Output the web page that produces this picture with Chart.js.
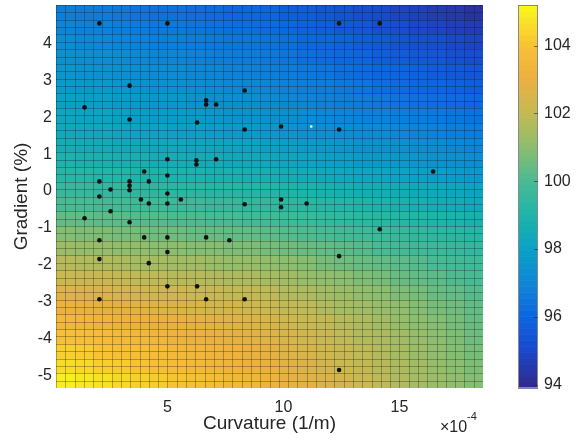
<!DOCTYPE html>
<html>
<head>
<meta charset="utf-8">
<script src="https://cdn.jsdelivr.net/npm/chart.js@4.4.1/dist/chart.umd.min.js"></script>
<style>
  body { margin: 0; background: #fff; }
  #wrap { position: relative; width: 576px; height: 444px; }
  #main { position: absolute; left: 0; top: 0; }
  #bar { position: absolute; left: 500px; top: 0; }
</style>
</head>
<body>
<div id="wrap">
  <canvas id="main" width="500" height="444"></canvas>
  <canvas id="bar" width="76" height="444"></canvas>
</div>
<script>
// tick labels
const xTicks = [5, 10, 15];
const yTicks = [-5, -4, -3, -2, -1, 0, 1, 2, 3, 4];
const cbTicks = [94, 96, 98, 100, 102, 104];
const colorLimits = [93.9, 105.2];

// measured points (curvature x1e-4, gradient %)
const curvX = [2.07, 5.0, 12.4, 14.15, 3.37, 1.43, 3.37, 8.33, 6.67, 6.67, 7.1, 6.28, 8.33, 9.9, 12.4,
  5.0, 6.25, 6.25, 7.1, 4.0, 2.07, 2.55, 3.37, 3.37, 3.37, 4.2, 5.0,
  5.0, 2.07, 3.86, 4.2, 5.0, 5.58, 2.55, 1.43, 3.37, 8.33, 9.9, 9.9, 11.0, 16.45, 14.15,
  4.0, 5.0, 6.67, 2.07, 7.67, 5.0, 2.07, 4.2, 12.4, 6.28, 5.0, 2.07, 6.67, 8.33, 12.4];
const gradY = [4.55, 4.55, 4.55, 4.55, 2.86, 2.27, 1.94, 2.73, 2.46, 2.35, 2.35, 1.86, 1.67, 1.75, 1.67,
  0.86, 0.83, 0.72, 0.86, 0.53, 0.26, 0.04, 0.26, 0.14, 0.02, 0.26, 0.42,
  -0.07, -0.15, -0.23, -0.34, -0.34, -0.23, -0.55, -0.74, -0.85, -0.36, -0.23, -0.44, -0.34, 0.53, -1.04,
  -1.26, -1.26, -1.26, -1.34, -1.34, -1.66, -1.85, -1.96, -1.77, -2.59, -2.59, -2.94, -2.94, -2.94, -4.86];
const whiteX = [11.2];
const whiteY = [1.75];

// fitted surface, one value per 2x2 mesh block (rows top to bottom)
const xEdges = [0.2, 1.0, 1.8, 2.6, 3.4, 4.2, 5.0, 5.8, 6.6, 7.4, 8.2, 9.0, 9.8, 10.6, 11.4, 12.2, 13.0, 13.8, 14.6, 15.4, 16.2, 17.0, 17.8, 18.6];
const yEdges = [5.05, 4.65, 4.25, 3.85, 3.45, 3.05, 2.65, 2.25, 1.85, 1.45, 1.05, 0.65, 0.25, -0.15, -0.55, -0.95, -1.35, -1.75, -2.15, -2.55, -2.95, -3.35, -3.75, -4.15, -4.55, -4.95, -5.35];
const surfaceZ = [
  [96.8,96.7,96.7,96.6,96.5,96.4,96.4,96.3,96.2,96.1,96.1,96.0,95.8,95.7,95.5,95.4,95.2,95.1,94.9,94.8,94.6,94.5,94.3],
  [97.0,96.9,96.9,96.8,96.7,96.6,96.6,96.5,96.4,96.3,96.3,96.2,96.1,95.9,95.8,95.6,95.5,95.3,95.2,95.0,94.9,94.7,94.6],
  [97.2,97.1,97.1,97.0,96.9,96.8,96.8,96.7,96.6,96.5,96.5,96.4,96.3,96.1,96.0,95.9,95.7,95.6,95.4,95.3,95.2,95.0,94.9],
  [97.4,97.3,97.3,97.2,97.1,97.0,97.0,96.9,96.8,96.7,96.7,96.6,96.5,96.3,96.2,96.1,96.0,95.8,95.7,95.6,95.5,95.3,95.2],
  [97.6,97.5,97.5,97.4,97.3,97.2,97.2,97.1,97.0,96.9,96.9,96.8,96.7,96.6,96.5,96.3,96.2,96.1,96.0,95.9,95.7,95.6,95.5],
  [97.8,97.7,97.7,97.6,97.5,97.4,97.4,97.3,97.2,97.1,97.1,97.0,96.9,96.8,96.7,96.6,96.5,96.3,96.2,96.1,96.0,95.9,95.8],
  [98.0,97.9,97.9,97.8,97.7,97.6,97.6,97.5,97.4,97.3,97.3,97.2,97.1,97.0,96.9,96.8,96.7,96.6,96.5,96.4,96.3,96.2,96.1],
  [98.2,98.1,98.1,98.0,97.9,97.8,97.8,97.7,97.6,97.5,97.5,97.4,97.3,97.2,97.1,97.0,96.9,96.9,96.8,96.7,96.6,96.5,96.4],
  [98.4,98.3,98.3,98.2,98.1,98.1,98.0,98.0,97.9,97.8,97.8,97.7,97.6,97.5,97.4,97.3,97.2,97.2,97.1,97.0,96.9,96.8,96.7],
  [98.6,98.5,98.5,98.4,98.4,98.3,98.3,98.2,98.2,98.1,98.1,98.0,97.9,97.8,97.7,97.6,97.5,97.5,97.4,97.3,97.2,97.1,97.0],
  [98.9,98.8,98.8,98.7,98.7,98.6,98.6,98.5,98.5,98.4,98.4,98.3,98.2,98.1,98.0,97.9,97.8,97.8,97.7,97.6,97.5,97.4,97.3],
  [99.2,99.2,99.1,99.1,99.0,99.0,98.9,98.9,98.8,98.8,98.7,98.7,98.6,98.5,98.4,98.3,98.2,98.2,98.1,98.0,97.9,97.8,97.7],
  [99.6,99.6,99.5,99.5,99.4,99.4,99.3,99.3,99.2,99.2,99.1,99.1,99.0,98.9,98.8,98.7,98.6,98.6,98.5,98.4,98.3,98.2,98.1],
  [100.0,100.0,99.9,99.9,99.8,99.8,99.7,99.7,99.6,99.6,99.5,99.5,99.4,99.3,99.2,99.1,99.0,98.9,98.8,98.7,98.6,98.5,98.4],
  [100.4,100.4,100.3,100.3,100.2,100.2,100.1,100.1,100.0,100.0,99.9,99.9,99.8,99.7,99.6,99.5,99.4,99.3,99.2,99.1,99.0,98.9,98.8],
  [100.9,100.8,100.8,100.7,100.7,100.6,100.6,100.5,100.5,100.4,100.4,100.3,100.2,100.1,100.0,99.9,99.8,99.7,99.6,99.5,99.4,99.3,99.2],
  [101.3,101.2,101.2,101.1,101.1,101.0,101.0,100.9,100.9,100.8,100.8,100.7,100.6,100.5,100.4,100.3,100.2,100.0,99.9,99.8,99.7,99.6,99.5],
  [101.8,101.7,101.7,101.6,101.5,101.5,101.4,101.4,101.3,101.2,101.2,101.1,101.0,100.9,100.7,100.6,100.5,100.4,100.3,100.2,100.0,99.9,99.8],
  [102.2,102.1,102.1,102.0,101.9,101.9,101.8,101.8,101.7,101.6,101.6,101.5,101.4,101.2,101.1,101.0,100.8,100.7,100.5,100.4,100.3,100.1,100.0],
  [102.7,102.6,102.6,102.5,102.4,102.3,102.3,102.2,102.1,102.0,102.0,101.9,101.7,101.6,101.4,101.3,101.1,101.0,100.8,100.7,100.5,100.4,100.2],
  [103.1,103.0,102.9,102.9,102.8,102.7,102.6,102.5,102.4,102.4,102.3,102.2,102.0,101.9,101.7,101.5,101.4,101.2,101.1,100.9,100.7,100.6,100.4],
  [103.5,103.4,103.3,103.2,103.1,103.0,103.0,102.9,102.8,102.7,102.6,102.5,102.3,102.1,102.0,101.8,101.6,101.4,101.2,101.0,100.9,100.7,100.5],
  [103.9,103.8,103.7,103.6,103.5,103.4,103.2,103.1,103.0,102.9,102.8,102.7,102.5,102.3,102.1,101.9,101.7,101.6,101.4,101.2,101.0,100.8,100.6],
  [104.3,104.2,104.0,103.9,103.8,103.7,103.5,103.4,103.3,103.2,103.0,102.9,102.7,102.5,102.3,102.1,101.9,101.7,101.5,101.3,101.1,100.9,100.7],
  [104.6,104.5,104.3,104.2,104.0,103.9,103.7,103.6,103.4,103.3,103.1,103.0,102.8,102.6,102.4,102.2,102.0,101.8,101.6,101.4,101.2,101.0,100.8],
  [105.0,104.8,104.7,104.5,104.3,104.2,104.0,103.9,103.7,103.5,103.4,103.2,103.0,102.8,102.6,102.4,102.2,101.9,101.7,101.5,101.3,101.1,100.9]
];

const fontFam = '"Liberation Sans", Arial, Helvetica, sans-serif';
const txtColor = '#262626';

// parula-like colormap, tuned to the colours seen in the picture
const cmapPos = [0, 0.1, 0.19, 0.27, 0.36, 0.45, 0.54, 0.63, 0.72, 0.81, 0.89, 0.95, 1];
const cmapRGB = [
  [50, 40, 135], [25, 72, 205], [12, 102, 225], [15, 132, 215], [10, 160, 200], [30, 180, 170],
  [72, 186, 148], [140, 190, 110], [196, 185, 84], [236, 176, 64], [248, 192, 54], [248, 222, 40], [250, 248, 25]
];

function parula(v) {
  let t = (v - colorLimits[0]) / (colorLimits[1] - colorLimits[0]);
  t = Math.max(0, Math.min(1, t));
  let i = 0;
  while (i < cmapPos.length - 2 && t > cmapPos[i + 1]) i++;
  const k = (t - cmapPos[i]) / (cmapPos[i + 1] - cmapPos[i]);
  const a = cmapRGB[i], b = cmapRGB[i + 1];
  const c = a.map((ch, j) => Math.round(ch + (b[j] - ch) * k));
  return `rgb(${c[0]},${c[1]},${c[2]})`;
}

function noPadY(s) { s.paddingTop = 0; s.paddingBottom = 0; }
function noPadX(s) { s.paddingLeft = 0; s.paddingRight = 0; }

const surfacePlugin = {
  id: 'surface',
  beforeDatasetsDraw(chart) {
    const { ctx, chartArea, scales: { x, y } } = chart;
    ctx.save();
    ctx.beginPath();
    ctx.rect(chartArea.left, chartArea.top, chartArea.width, chartArea.height);
    ctx.clip();
    for (let r = 0; r < surfaceZ.length; r++) {
      const y0 = y.getPixelForValue(yEdges[r]);
      const y1 = y.getPixelForValue(yEdges[r + 1]);
      for (let c = 0; c < surfaceZ[r].length; c++) {
        const x0 = x.getPixelForValue(xEdges[c]);
        const x1 = x.getPixelForValue(xEdges[c + 1]);
        ctx.fillStyle = parula(surfaceZ[r][c]);
        ctx.fillRect(x0, y0, x1 - x0 + 0.6, y1 - y0 + 0.6);
      }
    }
    // mesh edges (block edges and block midlines)
    ctx.strokeStyle = 'rgba(20,20,20,0.3)';
    ctx.lineWidth = 1;
    ctx.beginPath();
    for (let c = 0; c < xEdges.length; c++) {
      const vals = [xEdges[c]];
      if (c < xEdges.length - 1) vals.push((xEdges[c] + xEdges[c + 1]) / 2);
      vals.forEach(v => {
        const px = Math.round(x.getPixelForValue(v)) + 0.5;
        ctx.moveTo(px, chartArea.top);
        ctx.lineTo(px, chartArea.bottom);
      });
    }
    for (let r = 0; r < yEdges.length; r++) {
      const vals = [yEdges[r]];
      if (r < yEdges.length - 1) vals.push((yEdges[r] + yEdges[r + 1]) / 2);
      vals.forEach(v => {
        const py = Math.round(y.getPixelForValue(v)) + 0.5;
        ctx.moveTo(chartArea.left, py);
        ctx.lineTo(chartArea.right, py);
      });
    }
    ctx.stroke();
    ctx.restore();
  },
  afterDraw(chart) {
    const { ctx } = chart;
    ctx.save();
    ctx.fillStyle = txtColor;
    ctx.textBaseline = 'alphabetic';
    ctx.font = '16px ' + fontFam;
    ctx.fillText('\u00d710', 440, 432);
    ctx.font = '11px ' + fontFam;
    ctx.fillText('-4', 467, 420);
    ctx.restore();
  }
};

const points = curvX.map((v, i) => ({ x: v, y: gradY[i] }));
const whitePts = whiteX.map((v, i) => ({ x: v, y: whiteY[i] }));

new Chart(document.getElementById('main'), {
  type: 'scatter',
  data: {
    datasets: [
      { data: points, backgroundColor: '#111', borderWidth: 0, pointRadius: 2.3 },
      { data: whitePts, backgroundColor: '#fff', borderWidth: 0, pointRadius: 1.3 }
    ]
  },
  options: {
    responsive: false,
    animation: false,
    events: [],
    layout: { padding: { left: 0, right: 17, top: 5, bottom: 0 } },
    plugins: { legend: { display: false }, tooltip: { enabled: false } },
    scales: {
      x: {
        type: 'linear', min: 0.2, max: 18.6,
        grid: { display: false, drawTicks: false },
        border: { display: false },
        afterBuildTicks: s => { s.ticks = xTicks.map(v => ({ value: v })); },
        afterFit: s => { s.height = 56; noPadX(s); },
        ticks: { autoSkip: false, maxRotation: 0, padding: 10, color: txtColor, font: { family: fontFam, size: 16 } },
        title: { display: true, text: 'Curvature (1/m)', color: txtColor, font: { family: fontFam, size: 19 }, padding: { top: 0, bottom: 9 } }
      },
      y: {
        type: 'linear', min: -5.35, max: 5.05,
        grid: { display: false, drawTicks: false },
        border: { display: false },
        afterBuildTicks: s => { s.ticks = yTicks.map(v => ({ value: v })); },
        afterFit: s => { s.width = 56; noPadY(s); },
        ticks: { autoSkip: false, padding: 4, color: txtColor, font: { family: fontFam, size: 16 } },
        title: { display: true, text: 'Gradient (%)', color: txtColor, font: { family: fontFam, size: 19 }, padding: { top: 10, bottom: 0 } }
      }
    }
  },
  plugins: [surfacePlugin]
});

const colorbarPlugin = {
  id: 'colorbar',
  beforeDatasetsDraw(chart) {
    const { ctx, chartArea, scales: { c } } = chart;
    const n = 64;
    const step = (colorLimits[1] - colorLimits[0]) / n;
    ctx.save();
    for (let i = 0; i < n; i++) {
      const v0 = colorLimits[0] + i * step;
      const py0 = c.getPixelForValue(v0);
      const py1 = c.getPixelForValue(v0 + step);
      ctx.fillStyle = parula(v0 + step / 2);
      ctx.fillRect(chartArea.left, py1, chartArea.width, py0 - py1 + 0.6);
    }
    ctx.strokeStyle = '#8a8a8a';
    ctx.lineWidth = 1;
    ctx.strokeRect(Math.round(chartArea.left) + 0.5, Math.round(chartArea.top) + 0.5,
      Math.round(chartArea.width) - 1, Math.round(chartArea.height) - 1);
    ctx.strokeStyle = 'rgba(40,40,40,0.6)';
    ctx.beginPath();
    cbTicks.forEach(v => {
      const py = Math.round(c.getPixelForValue(v)) + 0.5;
      ctx.moveTo(chartArea.right - 4, py);
      ctx.lineTo(chartArea.right, py);
    });
    ctx.stroke();
    ctx.restore();
  }
};

new Chart(document.getElementById('bar'), {
  type: 'scatter',
  data: { datasets: [] },
  options: {
    responsive: false,
    animation: false,
    events: [],
    layout: { padding: { left: 18, right: 0, top: 5, bottom: 56 } },
    plugins: { legend: { display: false }, tooltip: { enabled: false } },
    scales: {
      x: { display: false, min: 0, max: 1 },
      c: {
        type: 'linear', position: 'right', min: colorLimits[0], max: colorLimits[1],
        grid: { display: false, drawTicks: false },
        border: { display: false },
        afterBuildTicks: s => { s.ticks = cbTicks.map(v => ({ value: v })); },
        afterFit: s => { s.width = 38; noPadY(s); },
        ticks: { autoSkip: false, padding: 6, color: txtColor, font: { family: fontFam, size: 16 } }
      }
    }
  },
  plugins: [colorbarPlugin]
});
</script>
</body>
</html>
